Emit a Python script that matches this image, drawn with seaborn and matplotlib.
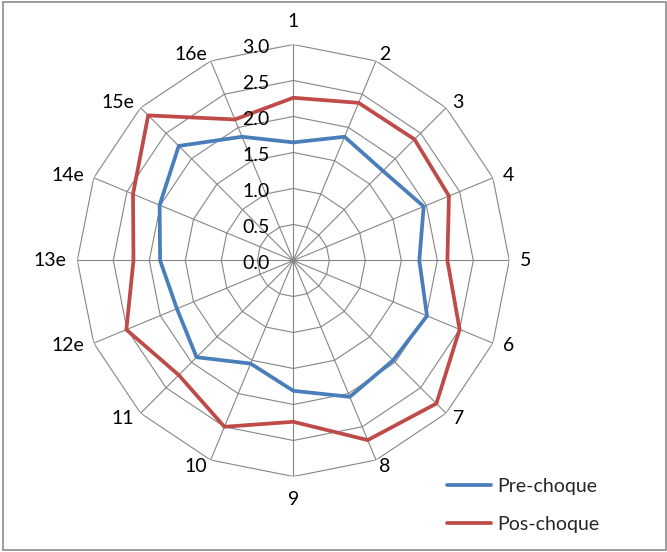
import numpy as np
import pandas as pd
import matplotlib
matplotlib.use("Agg")
import matplotlib.pyplot as plt
import seaborn as sns
from matplotlib.patches import Rectangle

# Categories around the radar (clockwise from the top)
categories = ["1", "2", "3", "4", "5", "6", "7", "8",
              "9", "10", "11", "12e", "13e", "14e", "15e", "16e"]
pre_choque = [1.64, 1.86, 1.76, 1.96, 1.75, 2.01, 1.96, 2.05,
              1.81, 1.55, 1.90, 1.75, 1.85, 2.01, 2.25, 1.86]
pos_choque = [2.26, 2.37, 2.38, 2.34, 2.14, 2.50, 2.81, 2.70,
              2.24, 2.50, 2.25, 2.51, 2.22, 2.41, 2.85, 2.12]
r_ticks = [0.0, 0.5, 1.0, 1.5, 2.0, 2.5, 3.0]
series_names = ["Pre-choque", "Pos-choque"]

sns.set_style("white")
plt.rcParams["font.family"] = ["Lato", "DejaVu Sans"]

FS = 14
PX = 0.72  # points per pixel at 100 dpi

n = len(categories)
angles = np.arange(n) * 2 * np.pi / n
closed = np.append(angles, angles[0])

rows = []
for name, vals in zip(series_names, [pre_choque, pos_choque]):
    vv = list(vals) + [vals[0]]
    for i, (a, v) in enumerate(zip(closed, vv)):
        rows.append({"angle": a, "value": v, "serie": name, "order": i})
df = pd.DataFrame(rows)

fig = plt.figure(figsize=(6.67, 5.52), dpi=100)
ax = fig.add_axes([0.1159, 0.1368, 0.6477, 0.7826], projection="polar")
ax.set_theta_zero_location("N")
ax.set_theta_direction(-1)
ax.set_ylim(0, 3)
ax.grid(False)
ax.spines["polar"].set_visible(False)
ax.set_xticks([])
ax.set_yticks([])
ax.patch.set_alpha(0)

grid_color = "#868686"
# polygonal rings
for r in r_ticks[1:]:
    ax.plot(closed, [r] * (n + 1), color=grid_color, lw=0.8, zorder=1)
# spokes
for a in angles:
    ax.plot([a, a], [0, 3], color=grid_color, lw=0.8, zorder=1)

sns.lineplot(data=df, x="angle", y="value", hue="serie", sort=False,
             estimator=None, units="serie",
             palette={"Pre-choque": "#4A7EBB", "Pos-choque": "#BE4B48"},
             lw=2.7, ax=ax, zorder=3)
ax.set_xlabel("")
ax.set_ylabel("")
ax.set_ylim(0, 3)

# category labels placed just outside the outer ring vertices
for a, lab in zip(angles, categories):
    s, c = np.sin(a), np.cos(a)
    if abs(s) < 0.1:
        ha = "center"
        dx, dy = 0, 23 * c
    else:
        ha = "left" if s > 0 else "right"
        dx = np.sign(s) * (2 + 9 * s * s)
        dy = 7 * c
    ax.annotate(lab, xy=(a, 3), xycoords="data",
                xytext=(dx * PX, dy * PX), textcoords="offset points",
                ha=ha, va="center", fontsize=FS, color="black",
                annotation_clip=False)

# radial tick labels, left of the vertical spoke
for r in r_ticks:
    ax.annotate(f"{r:.1f}", xy=(0, r), xycoords="data",
                xytext=(-24 * PX, -3 * PX), textcoords="offset points",
                ha="right", va="center", fontsize=FS, color="black")

sns.move_legend(ax, loc="upper left", bbox_to_anchor=(0.670, 0.134),
                bbox_transform=fig.transFigure, title=None, frameon=False,
                fontsize=FS, handlelength=2.27, labelspacing=1.06,
                handletextpad=0.3, borderpad=0, borderaxespad=0)

fig.patches.append(Rectangle((0.004, 0.003), 0.994, 0.993, transform=fig.transFigure,
                             fill=False, edgecolor="#8c8c8c", lw=1.2))

fig.savefig("out.png", dpi=100)
